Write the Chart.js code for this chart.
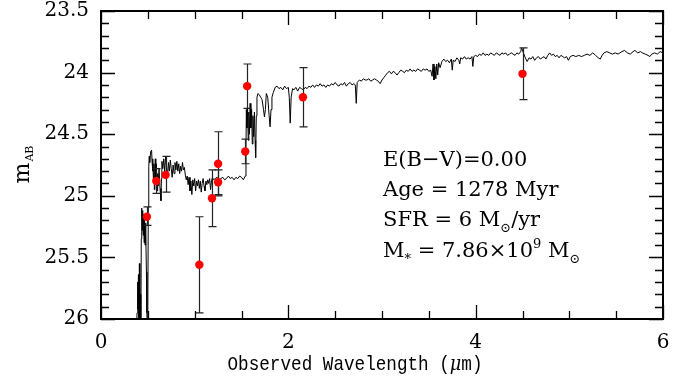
<!DOCTYPE html>
<html><head><meta charset="utf-8">
<script src="https://cdn.jsdelivr.net/npm/chart.js@4"></script>
<style>html,body{margin:0;padding:0;background:#fff;}#wrap{width:687px;height:382px;}</style>
</head><body><div id="wrap"><canvas id="c" width="687" height="382"></canvas></div>
<script>
// ---- Data ----
const specX = [0.370,0.385,0.390,0.395,0.400,0.405,0.410,0.415,0.420,0.425,0.430,0.435,0.440,0.445,0.450,0.455,0.460,0.465,0.470,0.475,0.480,0.485,0.490,0.495,0.500,0.505,0.510,0.515,0.520,0.530,0.540,0.545,0.550,0.555,0.560,0.565,0.570,0.575,0.580,0.585,0.590,0.600,0.605,0.610,0.620,0.630,0.640,0.645,0.650,0.660,0.670,0.680,0.690,0.700,0.710,0.720,0.730,0.740,0.750,0.760,0.770,0.780,0.790,0.800,0.810,0.820,0.830,0.840,0.850,0.860,0.870,0.880,0.890,0.900,0.910,0.920,0.930,0.940,0.950,0.960,0.970,0.980,0.990,1.000,1.010,1.020,1.030,1.040,1.050,1.060,1.070,1.080,1.090,1.100,1.110,1.120,1.130,1.140,1.150,1.160,1.170,1.180,1.190,1.200,1.220,1.240,1.260,1.280,1.300,1.320,1.340,1.360,1.380,1.400,1.420,1.440,1.460,1.480,1.500,1.520,1.540,1.548,1.552,1.558,1.565,1.572,1.578,1.585,1.592,1.600,1.608,1.615,1.622,1.630,1.638,1.645,1.651,1.658,1.665,1.675,1.690,1.705,1.720,1.735,1.745,1.755,1.765,1.780,1.795,1.805,1.815,1.825,1.840,1.860,1.880,1.900,1.920,1.940,1.960,1.980,2.000,2.010,2.020,2.030,2.045,2.060,2.080,2.100,2.120,2.140,2.160,2.180,2.200,2.220,2.240,2.260,2.280,2.300,2.320,2.340,2.360,2.380,2.400,2.420,2.440,2.460,2.480,2.500,2.520,2.540,2.560,2.580,2.600,2.620,2.640,2.660,2.680,2.700,2.715,2.725,2.735,2.760,2.780,2.800,2.820,2.840,2.860,2.880,2.900,2.920,2.940,2.960,2.980,3.000,3.020,3.040,3.060,3.080,3.100,3.120,3.140,3.160,3.180,3.200,3.220,3.240,3.260,3.280,3.300,3.320,3.340,3.360,3.380,3.400,3.420,3.440,3.460,3.480,3.500,3.520,3.535,3.545,3.555,3.565,3.575,3.585,3.595,3.605,3.620,3.640,3.660,3.680,3.700,3.720,3.740,3.750,3.760,3.780,3.800,3.820,3.830,3.840,3.860,3.880,3.900,3.920,3.940,3.960,3.970,3.980,4.000,4.020,4.040,4.060,4.080,4.100,4.120,4.140,4.160,4.180,4.200,4.220,4.240,4.260,4.280,4.300,4.320,4.340,4.360,4.380,4.400,4.420,4.440,4.460,4.480,4.490,4.510,4.530,4.550,4.570,4.590,4.610,4.630,4.650,4.670,4.690,4.710,4.730,4.750,4.770,4.790,4.810,4.830,4.850,4.870,4.890,4.910,4.930,4.950,4.970,4.990,5.010,5.040,5.070,5.100,5.130,5.160,5.190,5.220,5.250,5.280,5.310,5.330,5.350,5.370,5.400,5.430,5.460,5.490,5.520,5.540,5.560,5.590,5.620,5.650,5.680,5.700,5.730,5.760,5.780,5.810,5.840,5.860,5.880,5.910,5.940,5.970,6.000];
const specY = [26.30,25.95,25.70,25.92,25.64,26.05,25.55,26.10,25.80,26.20,25.35,25.10,25.28,25.12,25.32,25.15,25.38,25.20,25.40,25.22,25.30,25.62,25.95,26.20,25.90,25.10,24.76,24.68,24.73,24.64,24.63,24.72,24.80,24.70,24.88,24.74,24.95,24.80,24.70,24.86,24.74,24.96,24.82,24.92,24.78,24.94,25.04,24.86,24.72,24.78,24.70,24.80,24.68,24.76,24.85,24.73,24.80,24.71,24.78,24.85,24.75,24.82,24.73,24.79,24.72,24.80,24.74,24.82,24.76,24.80,24.73,24.79,24.77,24.83,24.87,24.84,24.91,24.85,24.96,24.88,24.99,24.87,24.92,24.86,24.96,24.88,24.92,24.87,24.94,24.88,24.97,24.90,24.86,24.92,24.96,24.88,24.91,24.87,24.90,24.86,24.95,24.88,24.85,24.87,24.86,24.85,24.87,24.86,24.85,24.87,24.86,24.84,24.86,24.85,24.87,24.85,24.86,24.84,24.85,24.87,24.84,24.60,24.30,24.45,24.28,24.55,24.32,24.50,24.25,24.45,24.30,24.58,24.35,24.52,24.32,24.55,24.69,24.35,24.20,24.17,24.18,24.20,24.22,24.30,24.36,24.30,24.17,24.20,24.35,24.44,24.30,24.20,24.16,24.12,24.11,24.13,24.12,24.14,24.11,24.13,24.12,24.20,24.41,24.20,24.13,24.14,24.12,24.15,24.12,24.13,24.14,24.12,24.13,24.11,24.12,24.10,24.12,24.10,24.11,24.09,24.11,24.10,24.12,24.10,24.11,24.09,24.10,24.08,24.10,24.11,24.09,24.10,24.08,24.11,24.09,24.08,24.10,24.09,24.10,24.25,24.08,24.06,24.07,24.05,24.06,24.06,24.05,24.07,24.06,24.05,24.06,24.07,24.09,24.06,24.04,24.02,24.00,23.99,24.01,23.99,24.00,24.02,24.00,23.98,23.99,24.00,23.98,23.99,23.97,23.99,23.98,23.99,23.97,23.98,23.99,23.97,23.98,23.97,23.99,23.98,24.03,23.93,24.06,23.95,24.05,23.93,24.02,23.92,23.96,23.91,23.89,23.91,23.90,23.92,23.89,23.98,23.90,23.91,23.88,23.90,23.93,23.88,23.89,23.87,23.89,23.88,23.89,23.87,23.95,23.87,23.86,23.87,23.85,23.86,23.84,23.86,23.85,23.86,23.84,23.85,23.86,23.84,23.85,23.86,23.84,23.85,23.84,23.86,23.85,23.84,23.85,23.86,23.84,23.85,23.83,23.80,23.84,23.88,23.91,23.88,23.89,23.87,23.90,23.88,23.87,23.89,23.88,23.87,23.89,23.86,23.84,23.86,23.85,23.87,23.86,23.88,23.86,23.87,23.88,23.87,23.90,23.87,23.86,23.87,23.86,23.87,23.86,23.85,23.86,23.84,23.86,23.88,23.89,23.86,23.84,23.83,23.84,23.85,23.84,23.85,23.84,23.83,23.82,23.84,23.85,23.83,23.82,23.84,23.83,23.84,23.85,23.86,23.87,23.85,23.84,23.85,23.83,23.84];

const photX  = [0.49, 0.59, 0.69, 1.05, 1.185, 1.25, 1.25, 1.54, 1.56, 2.156, 4.50];
const photY  = [25.17, 24.88, 24.83, 25.56, 25.02, 24.89, 24.74, 24.64, 24.11, 24.20, 24.01];
const photLo = [25.09, 24.78, 24.68, 25.17, 24.79, 24.79, 24.48, 24.54, 23.93, 23.96, 23.80];
const photHi = [25.24, 24.98, 24.97, 25.95, 25.25, 24.99, 25.00, 24.74, 24.29, 24.44, 24.22];

const xTickValues = [0, 2, 4, 6];
const xTickLabels = ['0', '2', '4', '6'];
const yTickValues = [23.5, 24, 24.5, 25, 25.5, 26];
const yTickLabels = ['23.5', '24', '24.5', '25', '25.5', '26'];
const xMinorStep = 0.5, yMinorStep = 0.1;

const xTitle = ['Observed Wavelength (', 'μ', 'm)'];
const yTitle = ['m', 'AB'];
const notes = [
  [{t:'E(B\u2212V)=0.00'}],
  [{t:'Age = 1278 Myr'}],
  [{t:'SFR = 6 M'},{t:'\u2299',sub:true},{t:'/yr'}],
  [{t:'M'},{t:'*',sub:true},{t:' = 7.86\u00d710'},{t:'9',sup:true},{t:' M'},{t:'\u2299',sub:true}]
];

// ---- Drawing helpers ----
const SERIF = '"DejaVu Serif", "Liberation Serif", serif';
const MONO = '"Liberation Mono", "DejaVu Sans Mono", monospace';

function drawRich(ctx, segs, x, y, size) {
  let cx = x;
  for (const s of segs) {
    const sz = (s.sub || s.sup) ? Math.round(size * 0.62) : size;
    ctx.font = sz + 'px ' + SERIF;
    const dy = s.sub ? size * 0.28 : (s.sup ? -size * 0.45 : 0);
    ctx.fillText(s.t, cx, y + dy);
    cx += ctx.measureText(s.t).width;
  }
}

const framePlugin = {
  id: 'frame',
  beforeDatasetDraw(chart, args) {
    if (args.index !== 0) return;
    const ctx = chart.ctx, xs = chart.scales.x, ys = chart.scales.y;
    ctx.save();
    ctx.strokeStyle = '#222';
    ctx.lineWidth = 1.2;
    for (let i = 0; i < photX.length; i++) {
      const px = Math.round(xs.getPixelForValue(photX[i])) + 0.5;
      const y1 = ys.getPixelForValue(photLo[i]);
      const y2 = ys.getPixelForValue(photHi[i]);
      ctx.beginPath();
      ctx.moveTo(px, y1); ctx.lineTo(px, y2);
      ctx.moveTo(px - 4, y1); ctx.lineTo(px + 4, y1);
      ctx.moveTo(px - 4, y2); ctx.lineTo(px + 4, y2);
      ctx.stroke();
    }
    ctx.restore();
  },
  afterDatasetsDraw(chart) {
    const ctx = chart.ctx, a = chart.chartArea, xs = chart.scales.x, ys = chart.scales.y;
    ctx.save();
    ctx.strokeStyle = '#000';
    ctx.lineWidth = 2;
    ctx.strokeRect(a.left, a.top, a.right - a.left, a.bottom - a.top);
    ctx.lineWidth = 1.3;
    ctx.beginPath();
    const yMin = ys.min, yMax = ys.max;
    for (let k = 0; yMin + k * yMinorStep <= yMax + 1e-9; k++) {
      const v = yMin + k * yMinorStep;
      const major = yTickValues.some(t => Math.abs(t - v) < 1e-6);
      const len = major ? 14 : 8;
      const py = Math.round(ys.getPixelForValue(v)) + 0.5;
      ctx.moveTo(a.left, py); ctx.lineTo(a.left + len, py);
      ctx.moveTo(a.right, py); ctx.lineTo(a.right - len, py);
    }
    for (let k = 0; xs.min + k * xMinorStep <= xs.max + 1e-9; k++) {
      const v = xs.min + k * xMinorStep;
      const major = xTickValues.some(t => Math.abs(t - v) < 1e-6);
      const len = major ? 14 : 8;
      const px = Math.round(xs.getPixelForValue(v)) + 0.5;
      ctx.moveTo(px, a.bottom); ctx.lineTo(px, a.bottom - len);
      ctx.moveTo(px, a.top); ctx.lineTo(px, a.top + len);
    }
    ctx.stroke();

    ctx.fillStyle = '#000';
    ctx.textBaseline = 'alphabetic';
    ctx.textAlign = 'left';
    const nx = xs.getPixelForValue(3.0) + 1;
    const baselines = [a.top + 155, a.top + 185, a.top + 215, a.top + 246];
    notes.forEach((line, i) => drawRich(ctx, line, nx, baselines[i], 21));

    // x title: slightly condensed, taller typewriter face
    const FS = 21, SX = 0.84;
    ctx.font = FS + 'px ' + MONO;
    const w0 = ctx.measureText(xTitle[0]).width;
    ctx.font = 'italic ' + FS + 'px ' + SERIF;
    const w1 = ctx.measureText(xTitle[1]).width;
    ctx.font = FS + 'px ' + MONO;
    const w2 = ctx.measureText(xTitle[2]).width;
    ctx.save();
    ctx.translate(355 - SX * (w0 + w1 + w2) / 2, 370);
    ctx.scale(SX, 1);
    let tx = 0;
    ctx.fillText(xTitle[0], tx, 0); tx += w0;
    ctx.font = 'italic ' + FS + 'px ' + SERIF;
    ctx.fillText(xTitle[1], tx, 0); tx += w1;
    ctx.font = FS + 'px ' + MONO;
    ctx.fillText(xTitle[2], tx, 0);
    ctx.restore();

    ctx.translate(29, (a.top + a.bottom) / 2);
    ctx.rotate(-Math.PI / 2);
    ctx.font = '22px ' + SERIF;
    const mw = ctx.measureText(yTitle[0]).width;
    ctx.font = '11px ' + SERIF;
    const sw = ctx.measureText(yTitle[1]).width;
    const sx = -(mw + sw) / 2;
    ctx.font = '22px ' + SERIF;
    ctx.fillText(yTitle[0], sx, 0);
    ctx.font = '11px ' + SERIF;
    ctx.fillText(yTitle[1], sx + mw + 1, 4);
    ctx.restore();
  }
};

const ctx = document.getElementById('c').getContext('2d');
new Chart(ctx, {
  type: 'scatter',
  data: {
    datasets: [
      {
        label: 'Photometry',
        data: photX.map((x, i) => ({x: x, y: photY[i]})),
        backgroundColor: '#ff0000', borderColor: '#ff0000',
        pointRadius: 4.2, pointHoverRadius: 4.2, borderWidth: 0, order: 0
      },
      {
        label: 'Model SED',
        type: 'line',
        data: specX.map((x, i) => ({x: x, y: specY[i]})),
        borderColor: '#000', borderWidth: 1, pointRadius: 0, fill: false,
        tension: 0, order: 1
      }
    ]
  },
  options: {
    responsive: false, animation: false, devicePixelRatio: 1,
    layout: {padding: {top: 11, right: 24, left: 0, bottom: 0}},
    plugins: {legend: {display: false}, tooltip: {enabled: false}},
    scales: {
      x: {
        type: 'linear', min: 0, max: 6,
        afterBuildTicks: s => { s.ticks = xTickValues.map(v => ({value: v})); },
        afterFit: s => { s.height = 63; s.paddingLeft = 0; s.paddingRight = 0; },
        grid: {display: false, drawTicks: false}, border: {display: false},
        ticks: {padding: 12, color: '#000', font: {family: SERIF, size: 20},
                maxRotation: 0, autoSkip: false,
                callback: (v, i) => xTickLabels[i]}
      },
      y: {
        type: 'linear', min: 23.5, max: 26, reverse: true,
        afterBuildTicks: s => { s.ticks = yTickValues.map(v => ({value: v})); },
        afterFit: s => { s.width = 101; s.paddingTop = 0; s.paddingBottom = 0; },
        grid: {display: false, drawTicks: false}, border: {display: false},
        ticks: {padding: 12, color: '#000', font: {family: SERIF, size: 20},
                autoSkip: false, callback: (v, i) => yTickLabels[i]}
      }
    }
  },
  plugins: [framePlugin]
});
</script></body></html>
